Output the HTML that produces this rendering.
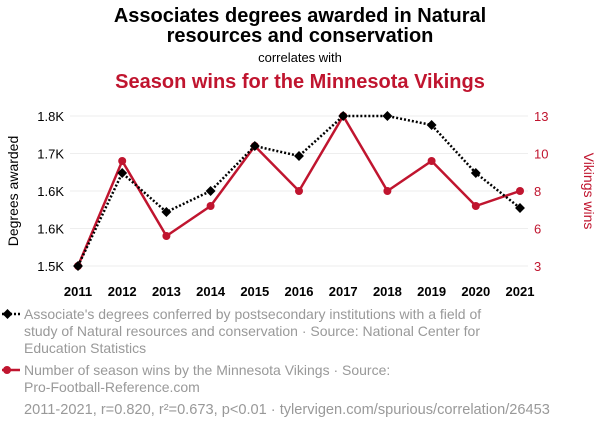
<!DOCTYPE html>
<html><head><meta charset="utf-8"><style>
body{margin:0;width:600px;height:430px;background:#fff;font-family:"Liberation Sans",sans-serif;overflow:hidden}
svg text{font-family:"Liberation Sans",sans-serif}
</style></head><body>
<svg width="600" height="430">
<text x="300" y="22" text-anchor="middle" font-size="20" font-weight="bold" fill="#000">Associates degrees awarded in Natural</text>
<text x="300" y="42" text-anchor="middle" font-size="20" font-weight="bold" fill="#000">resources and conservation</text>
<text x="300" y="62" text-anchor="middle" font-size="13" fill="#000">correlates with</text>
<text x="300" y="88" text-anchor="middle" font-size="20" font-weight="bold" fill="#c0152f">Season wins for the Minnesota Vikings</text>
<g id="grid"></g><g id="axes"></g><g id="series"></g>
<text transform="translate(18,191) rotate(-90)" text-anchor="middle" font-size="14" fill="#000">Degrees awarded</text>
<text transform="translate(584,191) rotate(90)" text-anchor="middle" font-size="14" fill="#c0152f">Vikings wins</text>
<g>
<line x1="2" y1="314" x2="20" y2="314" stroke="#000" stroke-width="2.5" stroke-dasharray="2,2"/>
<rect x="4" y="310.5" width="7" height="7" transform="rotate(45 7.5 314)" fill="#000"/>
<text x="24" y="319" font-size="14" fill="#999">Associate's degrees conferred by postsecondary institutions with a field of</text>
<text x="24" y="336" font-size="14" fill="#999">study of Natural resources and conservation · Source: National Center for</text>
<text x="24" y="353" font-size="14" fill="#999">Education Statistics</text></g>
<g>
<line x1="2" y1="370" x2="20" y2="370" stroke="#c0152f" stroke-width="2.5"/>
<circle cx="7" cy="370" r="4" fill="#c0152f"/>
<text x="24" y="375" font-size="14" fill="#999">Number of season wins by the Minnesota Vikings · Source:</text>
<text x="24" y="392" font-size="14" fill="#999">Pro-Football-Reference.com</text></g>
<text x="24" y="414" font-size="14.6" fill="#999">2011-2021, r=0.820, r²=0.673, p&lt;0.01 · tylervigen.com/spurious/correlation/26453</text>
</svg>
<script>
const years=[2011,2012,2013,2014,2015,2016,2017,2018,2019,2020,2021];
const degrees=[1500,1686,1608,1650,1740,1720,1800,1800,1782,1686,1616];
const wins=[3,10,5,7,11,8,13,8,10,7,8];
const leftTicks=[1500,1575,1650,1725,1800];
const leftLabels=["1.5K","1.6K","1.6K","1.7K","1.8K"];
const rightTicks=[3,5.5,8,10.5,13];
const rightLabels=["3","6","8","10","13"];
const NS="http://www.w3.org/2000/svg";
const x=i=>78+(520-78)*(i)/(years.length-1);
const yL=v=>266-(v-1500)/300*150;
const yR=v=>266-(v-3)/10*150;
function mk(t,a,p){const e=document.createElementNS(NS,t);for(const k in a)e.setAttribute(k,a[k]);p.appendChild(e);return e;}
const grid=document.getElementById('grid'),axes=document.getElementById('axes'),ser=document.getElementById('series');
leftTicks.forEach((v,i)=>{
 const l=mk('line',{x1:70,x2:528,y1:yL(v),y2:yL(v),stroke:'#eee'},grid);
 
 
 const t=mk('text',{x:64,y:yL(v)+5,'text-anchor':'end','font-size':13,fill:'#000'},axes);t.textContent=leftLabels[i];
 
 
});
rightTicks.forEach((v,i)=>{
 const t=mk('text',{x:534,y:yR(v)+5,'font-size':13,fill:'#c0152f'},axes);t.textContent=rightLabels[i];
 
 
});
years.forEach((yr,i)=>{
 const t=mk('text',{x:x(i),y:296,'text-anchor':'middle','font-size':13,'font-weight':'bold',fill:'#000'},axes);t.textContent=yr;
 
 
});
const rl=mk('polyline',{points:wins.map((v,i)=>x(i)+','+yR(v)).join(' '),fill:'none',stroke:'#c0152f','stroke-width':2.5},ser);


wins.forEach((v,i)=>{const c=mk('circle',{cx:x(i),cy:yR(v),r:4,fill:'#c0152f'},ser);
 
 });
const bl=mk('polyline',{points:degrees.map((v,i)=>x(i)+','+yL(v)).join(' '),fill:'none',stroke:'#000','stroke-width':2.5,'stroke-dasharray':'2,2'},ser);


degrees.forEach((v,i)=>{const r=mk('rect',{x:x(i)-3.5,y:yL(v)-3.5,width:7,height:7,fill:'#000',transform:`rotate(45 ${x(i)} ${yL(v)})`},ser);
 
 });
</script>
</body></html>
